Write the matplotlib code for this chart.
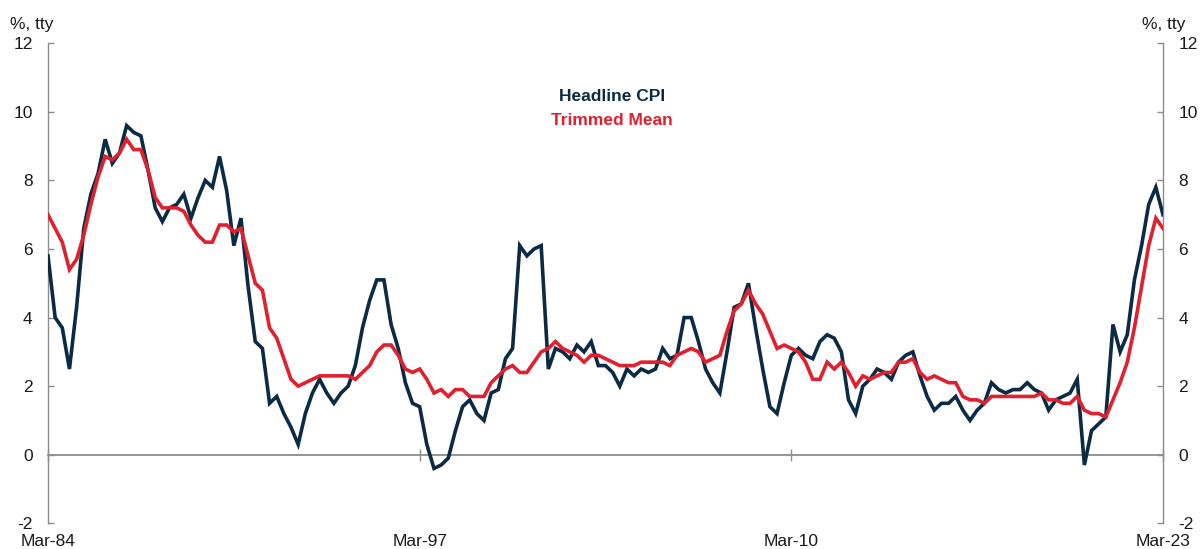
import numpy as np
import matplotlib
matplotlib.use("Agg")
import matplotlib.pyplot as plt

plt.rcParams['font.family'] = ['Liberation Sans', 'DejaVu Sans']

# Quarterly data, Mar-84 .. Mar-23 (year-ended % change)
headline_cpi = [
    5.8, 4.0, 3.7, 2.5,   # 1984
    4.3, 6.6, 7.6, 8.2,   # 1985
    9.2, 8.5, 8.8, 9.6,   # 1986
    9.4, 9.3, 8.3, 7.2,   # 1987
    6.8, 7.2, 7.3, 7.6,   # 1988
    6.9, 7.5, 8.0, 7.8,   # 1989
    8.7, 7.7, 6.1, 6.9,   # 1990
    4.9, 3.3, 3.1, 1.5,   # 1991
    1.7, 1.2, 0.8, 0.3,   # 1992
    1.2, 1.8, 2.2, 1.8,   # 1993
    1.5, 1.8, 2.0, 2.6,   # 1994
    3.7, 4.5, 5.1, 5.1,   # 1995
    3.8, 3.1, 2.1, 1.5,   # 1996
    1.4, 0.3, -0.4, -0.3, # 1997
    -0.1, 0.7, 1.4, 1.6,  # 1998
    1.2, 1.0, 1.8, 1.9,   # 1999
    2.8, 3.1, 6.1, 5.8,   # 2000
    6.0, 6.1, 2.5, 3.1,   # 2001
    3.0, 2.8, 3.2, 3.0,   # 2002
    3.3, 2.6, 2.6, 2.4,   # 2003
    2.0, 2.5, 2.3, 2.5,   # 2004
    2.4, 2.5, 3.1, 2.8,   # 2005
    2.9, 4.0, 4.0, 3.3,   # 2006
    2.5, 2.1, 1.8, 3.0,   # 2007
    4.3, 4.4, 5.0, 3.7,   # 2008
    2.5, 1.4, 1.2, 2.1,   # 2009
    2.9, 3.1, 2.9, 2.8,   # 2010
    3.3, 3.5, 3.4, 3.0,   # 2011
    1.6, 1.2, 2.0, 2.2,   # 2012
    2.5, 2.4, 2.2, 2.7,   # 2013
    2.9, 3.0, 2.3, 1.7,   # 2014
    1.3, 1.5, 1.5, 1.7,   # 2015
    1.3, 1.0, 1.3, 1.5,   # 2016
    2.1, 1.9, 1.8, 1.9,   # 2017
    1.9, 2.1, 1.9, 1.8,   # 2018
    1.3, 1.6, 1.7, 1.8,   # 2019
    2.2, -0.3, 0.7, 0.9,  # 2020
    1.1, 3.8, 3.0, 3.5,   # 2021
    5.1, 6.1, 7.3, 7.8,   # 2022
    7.0,                  # 2023
]

trimmed_mean = [
    7.0, 6.6, 6.2, 5.4,   # 1984
    5.7, 6.4, 7.3, 8.1,   # 1985
    8.7, 8.6, 8.8, 9.2,   # 1986
    8.9, 8.9, 8.3, 7.5,   # 1987
    7.2, 7.2, 7.2, 7.1,   # 1988
    6.7, 6.4, 6.2, 6.2,   # 1989
    6.7, 6.7, 6.5, 6.6,   # 1990
    5.8, 5.0, 4.8, 3.7,   # 1991
    3.4, 2.8, 2.2, 2.0,   # 1992
    2.1, 2.2, 2.3, 2.3,   # 1993
    2.3, 2.3, 2.3, 2.2,   # 1994
    2.4, 2.6, 3.0, 3.2,   # 1995
    3.2, 2.9, 2.5, 2.4,   # 1996
    2.5, 2.2, 1.8, 1.9,   # 1997
    1.7, 1.9, 1.9, 1.7,   # 1998
    1.7, 1.7, 2.1, 2.3,   # 1999
    2.5, 2.6, 2.4, 2.4,   # 2000
    2.7, 3.0, 3.1, 3.3,   # 2001
    3.1, 3.0, 2.9, 2.7,   # 2002
    2.9, 2.9, 2.8, 2.7,   # 2003
    2.6, 2.6, 2.6, 2.7,   # 2004
    2.7, 2.7, 2.7, 2.6,   # 2005
    2.9, 3.0, 3.1, 3.0,   # 2006
    2.7, 2.8, 2.9, 3.6,   # 2007
    4.2, 4.4, 4.8, 4.4,   # 2008
    4.1, 3.6, 3.1, 3.2,   # 2009
    3.1, 3.0, 2.7, 2.2,   # 2010
    2.2, 2.7, 2.5, 2.7,   # 2011
    2.4, 2.0, 2.3, 2.2,   # 2012
    2.3, 2.4, 2.4, 2.7,   # 2013
    2.7, 2.8, 2.4, 2.2,   # 2014
    2.3, 2.2, 2.1, 2.1,   # 2015
    1.7, 1.6, 1.6, 1.5,   # 2016
    1.7, 1.7, 1.7, 1.7,   # 2017
    1.7, 1.7, 1.7, 1.8,   # 2018
    1.6, 1.6, 1.5, 1.5,   # 2019
    1.7, 1.3, 1.2, 1.2,   # 2020
    1.1, 1.6, 2.1, 2.7,   # 2021
    3.7, 4.9, 6.1, 6.9,   # 2022
    6.6,                  # 2023
]

xtick_labels = ['Mar-84', 'Mar-97', 'Mar-10', 'Mar-23']
xtick_index = [0, 52, 104, 156]
yticks = [-2, 0, 2, 4, 6, 8, 10, 12]

navy = '#0B2B44'
red = '#E0202E'
grey = '#8C8C8C'
txt = '#1A1A1A'
fs = 12.5

x = np.arange(len(headline_cpi))

fig = plt.figure(figsize=(12, 5.49), dpi=100)
ax = fig.add_axes([48 / 1200, 1 - 523.3 / 549, (1163 - 48) / 1200, (523.3 - 43.3) / 549])

ax.plot(x, headline_cpi, color=navy, lw=2.6, solid_joinstyle='miter', zorder=3)
ax.plot(x, trimmed_mean, color=red, lw=2.6, solid_joinstyle='miter', zorder=4)

ax.set_xlim(0, 156)
ax.set_ylim(-2, 12)

for s in ['left', 'right']:
    ax.spines[s].set_color(grey)
    ax.spines[s].set_linewidth(1.0)
ax.spines['top'].set_visible(False)
ax.spines['bottom'].set_visible(False)

ax.set_yticks(yticks)
ax.set_yticklabels([str(v) for v in yticks])
ax.tick_params(axis='y', which='both', left=True, right=True, labelleft=True,
               labelright=True, direction='in', length=4, width=1.0,
               color=grey, labelsize=fs, labelcolor=txt, pad=11)

ax.set_xticks(xtick_index)
ax.set_xticklabels(xtick_labels)
ax.tick_params(axis='x', length=0, labelsize=fs, labelcolor=txt, pad=8)

# zero line with small ticks
sec = ax.secondary_xaxis(2 / 14)
sec.spines['bottom'].set_color(grey)
sec.spines['bottom'].set_linewidth(1.3)
sec.set_xticks(xtick_index)
sec.set_xticklabels([''] * len(xtick_index))
sec.tick_params(axis='x', direction='inout', length=8, width=1.0, color=grey)

fig.text(32 / 1200, 1 - 24 / 549, '%, tty', ha='center', va='center', fontsize=fs, color=txt)
fig.text(1164 / 1200, 1 - 24 / 549, '%, tty', ha='center', va='center', fontsize=fs, color=txt)

ax.text(0.5055, 0.889, 'Headline CPI', transform=ax.transAxes, ha='center', va='center',
        fontsize=fs, fontweight='bold', color=navy)
ax.text(0.5055, 0.839, 'Trimmed Mean', transform=ax.transAxes, ha='center', va='center',
        fontsize=fs, fontweight='bold', color=red)

fig.savefig('out.png', dpi=100)
